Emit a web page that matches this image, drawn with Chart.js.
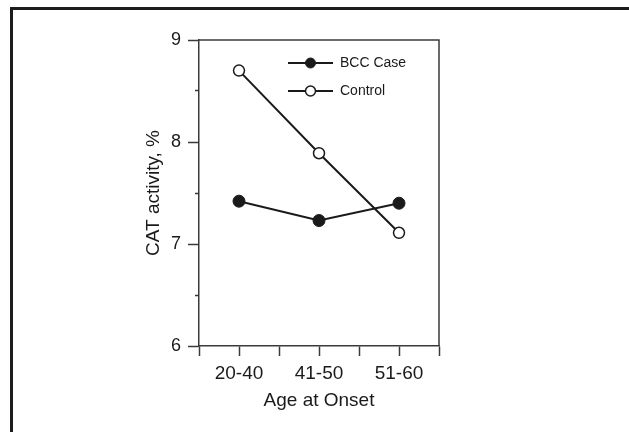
<!DOCTYPE html>
<html>
<head>
<meta charset="utf-8">
<title>CAT activity by age at onset</title>
<script src="https://cdn.jsdelivr.net/npm/chart.js@4.4.1/dist/chart.umd.min.js"></script>
<style>
  html, body { margin: 0; padding: 0; background: #fff; }
  .wrap { position: relative; width: 629px; height: 432px; overflow: hidden; }
  .frame {
    position: absolute; left: 10px; top: 7px; right: -10px; bottom: -10px;
    border-top: 3px solid #1c1c1c; border-left: 3px solid #1c1c1c;
  }
  canvas { position: absolute; left: 0; top: 0; }
</style>
</head>
<body>
<div class="wrap">
  <div class="frame"></div>
  <canvas id="catChart" width="629" height="432"></canvas>
</div>
<script>
const categories = ['20-40', '41-50', '51-60'];
const bccCase = [7.42, 7.23, 7.40];
const control = [8.70, 7.89, 7.11];
const yRange = [6, 9];

const ink = '#1a1a1a';
const axisColor = '#3a3a3a';
const font = 'Liberation Sans, Arial, Helvetica, sans-serif';

// points sit in the middle of each age band on a 0..n linear axis
function toPoints(values) {
    return categories.map((c, i) => ({ x: i + 0.5, y: values[i] }));
}

// closes the plot box (top + right) and draws the key inside it
const boxAndKey = {
    id: 'boxAndKey',
    afterDraw(chart) {
        const { ctx, chartArea: a } = chart;
        ctx.save();
        ctx.strokeStyle = axisColor;
        ctx.lineWidth = 1.5;
        ctx.beginPath();
        ctx.moveTo(a.left, a.top);
        ctx.lineTo(a.right, a.top);
        ctx.lineTo(a.right, a.bottom);
        ctx.stroke();

        chart.data.datasets.forEach((ds, i) => {
            const y = a.top + 23 + i * 28;
            const x0 = a.left + 89, x1 = a.left + 134, xm = (x0 + x1) / 2;
            ctx.strokeStyle = ds.borderColor;
            ctx.lineWidth = 2;
            ctx.beginPath();
            ctx.moveTo(x0, y);
            ctx.lineTo(x1, y);
            ctx.stroke();
            ctx.beginPath();
            ctx.arc(xm, y, 5, 0, Math.PI * 2);
            ctx.fillStyle = ds.pointBackgroundColor;
            ctx.fill();
            ctx.lineWidth = ds.pointBorderWidth;
            ctx.strokeStyle = ds.pointBorderColor;
            ctx.stroke();
            ctx.fillStyle = ink;
            ctx.font = '14px ' + font;
            ctx.textBaseline = 'middle';
            ctx.textAlign = 'left';
            ctx.fillText(ds.label, x1 + 7, y);
        });
        ctx.restore();
    }
};

var catChart = document.getElementById('catChart');
var myChart = new Chart(catChart, {
    type: 'line',
    data: {
        datasets: [{
            label: 'BCC Case',
            data: toPoints(bccCase),
            borderColor: ink,
            borderWidth: 2,
            pointRadius: 6,
            pointBackgroundColor: ink,
            pointBorderColor: ink,
            pointBorderWidth: 1
        }, {
            label: 'Control',
            data: toPoints(control),
            borderColor: ink,
            borderWidth: 2,
            pointRadius: 5.5,
            pointBackgroundColor: '#fff',
            pointBorderColor: ink,
            pointBorderWidth: 1.5
        }]
    },
    options: {
        responsive: false,
        animation: false,
        layout: { padding: { left: 140, right: 190, top: 40, bottom: 16 } },
        plugins: {
            legend: { display: false },
            tooltip: { enabled: false }
        },
        scales: {
            x: {
                type: 'linear',
                min: 0,
                max: categories.length,
                afterFit: s => { s.height = 70; },
                border: { color: axisColor, width: 1.5 },
                grid: {
                    drawOnChartArea: false,
                    tickLength: 10,
                    tickColor: axisColor,
                    tickWidth: 1.5
                },
                ticks: {
                    stepSize: 0.5,
                    autoSkip: false,
                    maxRotation: 0,
                    padding: 6,
                    color: ink,
                    font: { family: font, size: 19 },
                    callback: v => {
                        const i = v - 0.5;
                        return Number.isInteger(i) ? categories[i] : '';
                    }
                },
                title: {
                    display: true,
                    text: 'Age at Onset',
                    color: ink,
                    font: { family: font, size: 19 },
                    padding: { top: 0, bottom: 4 }
                }
            },
            y: {
                min: yRange[0],
                max: yRange[1],
                afterFit: s => { s.width = 59; },
                border: { color: axisColor, width: 1.5 },
                grid: {
                    drawOnChartArea: false,
                    tickLength: 11,
                    tickColor: axisColor,
                    tickWidth: 1.5,
                    // half-unit ticks are short, only next to the axis
                    tickBorderDash: c => Number.isInteger(c.tick.value) ? [] : [0, 7, 4]
                },
                ticks: {
                    stepSize: 0.5,
                    autoSkip: false,
                    padding: 7,
                    color: ink,
                    font: { family: font, size: 18 },
                    callback: v => Number.isInteger(v) ? v : ''
                },
                title: {
                    display: true,
                    text: 'CAT activity, %',
                    color: ink,
                    font: { family: font, size: 19 },
                    padding: { top: 2, bottom: 0 }
                }
            }
        }
    },
    plugins: [boxAndKey]
});
</script>
</body>
</html>
